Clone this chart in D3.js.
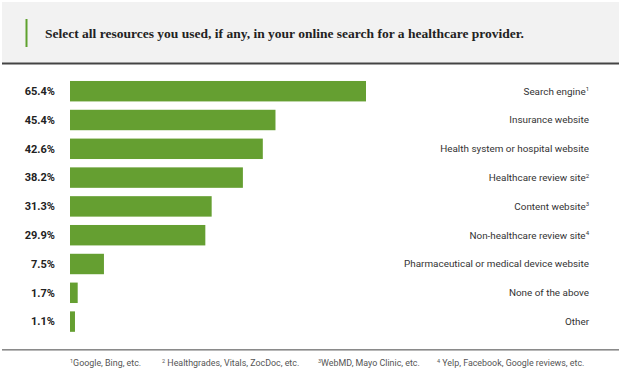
<!DOCTYPE html>
<html><head><meta charset="utf-8">
<script src="https://cdn.jsdelivr.net/npm/d3@7"></script>
<style>html,body{margin:0;padding:0;background:#fff;}svg{display:block;}</style>
</head><body>
<svg id="chart" width="623" height="378"></svg>
<script>
const title = "Select all resources you used, if any, in your online search for a healthcare provider.";
const categories = ["Search engine","Insurance website","Health system or hospital website","Healthcare review site","Content website","Non-healthcare review site","Pharmaceutical or medical device website","None of the above","Other"];
const marks = ["1","","","2","3","4","","",""];
const values = [65.4,45.4,42.6,38.2,31.3,29.9,7.5,1.7,1.1];
const footnoteNums = ["1","2","3","4"];
const footnotes = ["Google, Bing, etc."," Healthgrades, Vitals, ZocDoc, etc.","WebMD, Mayo Clinic, etc."," Yelp, Facebook, Google reviews, etc."];
const footnoteX = [70,162,318,437];

const svg = d3.select("#chart");
// header
svg.append("rect").attr("x",2).attr("y",2).attr("width",617).attr("height",61).attr("fill","#f2f2f2");
svg.append("rect").attr("x",2).attr("y",62.5).attr("width",617).attr("height",2).attr("fill","#444");
svg.append("rect").attr("x",25.5).attr("y",19).attr("width",2).attr("height",28).attr("fill","#5fa12e");
svg.append("text").attr("x",45).attr("y",37.5).attr("font-family","'Liberation Serif', serif").attr("font-weight","bold")
  .attr("font-size",12.5).attr("fill","#222").attr("textLength",479).attr("lengthAdjust","spacingAndGlyphs").text(title);

const x = d3.scaleLinear().domain([0,100]).range([70,522.6]);
const y = d3.scaleBand().domain(categories).range([76.8,336]).paddingInner(0.29).paddingOuter(0.145);

const data = categories.map((c,i)=>({c, v:values[i], m:marks[i]}));
const g = svg.append("g");
g.selectAll("rect.bar").data(data).join("rect").attr("class","bar")
  .attr("x",x(0)).attr("y",d=>y(d.c)).attr("width",d=>x(d.v)-x(0)).attr("height",y.bandwidth()).attr("fill","#659f31");
g.selectAll("text.val").data(data).join("text").attr("class","val")
  .attr("x",55).attr("y",d=>y(d.c)+y.bandwidth()/2).attr("dy","0.35em").attr("text-anchor","end")
  .attr("font-family","Roboto, sans-serif").attr("font-weight","bold").attr("font-size",11).attr("fill","#222")
  .text(d=>d3.format(".1f")(d.v)+"%");
const lab = g.selectAll("text.lab").data(data).join("text").attr("class","lab")
  .attr("x",589).attr("y",d=>y(d.c)+y.bandwidth()/2).attr("dy","0.35em").attr("text-anchor","end")
  .attr("font-family","Roboto, sans-serif").attr("font-size",9.9).attr("fill","#333");
lab.append("tspan").text(d=>d.c);
lab.filter(d=>d.m).append("tspan").attr("font-size",6).attr("dy",-3.5).text(d=>d.m);

// footer
svg.append("rect").attr("x",2).attr("y",349).attr("width",617).attr("height",1.6).attr("fill","#8a8a8a");
const fn = svg.selectAll("text.fn").data(footnotes).join("text").attr("class","fn")
  .attr("x",(d,i)=>footnoteX[i]).attr("y",366)
  .attr("font-family","Roboto, sans-serif").attr("font-size",8.9).attr("fill","#555");
fn.append("tspan").attr("font-size",5.5).attr("dy",-3).text((d,i)=>footnoteNums[i]);
fn.append("tspan").attr("dy",3).text(d=>d);
</script>
</body></html>
